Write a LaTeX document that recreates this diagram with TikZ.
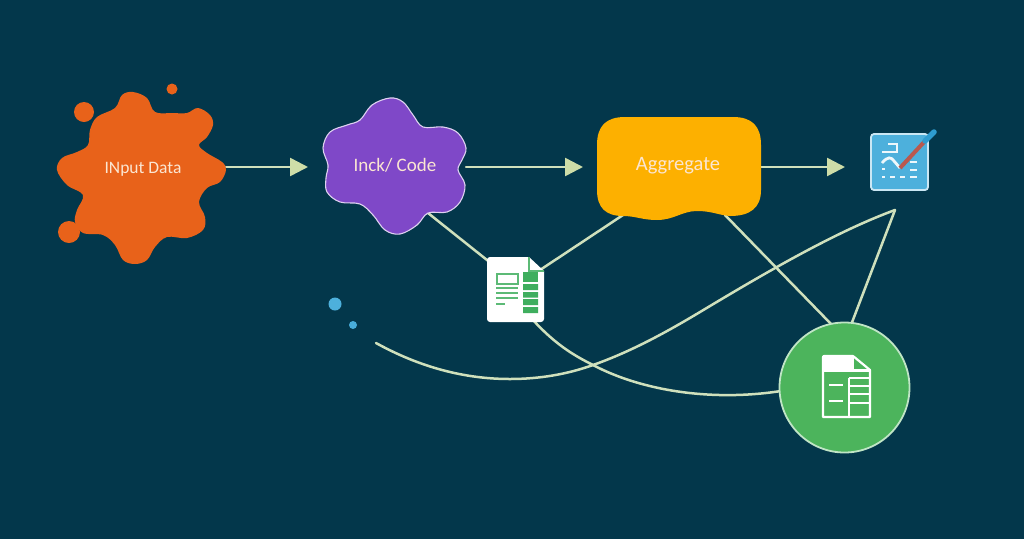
\documentclass[tikz,border=0pt]{standalone}
\usepackage{fontspec}
\setmainfont{Carlito}
\definecolor{bgc}{HTML}{03374B}
\definecolor{linec}{HTML}{CFE0BC}
\definecolor{headc}{HTML}{CEDDA8}
\definecolor{orangec}{HTML}{E8621A}
\definecolor{purplec}{HTML}{7F48C8}
\definecolor{yellowc}{HTML}{FDB000}
\definecolor{greenc}{HTML}{4CB45C}
\definecolor{docg}{HTML}{3FAE5E}
\definecolor{skyc}{HTML}{4DB0DC}
\definecolor{penr}{HTML}{B9584E}
\definecolor{penb}{HTML}{2E9CD0}
\definecolor{labelc}{HTML}{FBE6D2}
\usetikzlibrary{arrows.meta}
\tikzset{
  conn/.style={draw=linec,line width=2.5pt,line cap=round},
  flow/.style={conn,-{Triangle[length=18pt,width=18pt,color=headc]},shorten >=0pt},
  lbl/.style={text=labelc,font=\fontsize{17.5}{20}\selectfont,inner sep=0pt},
  lblwide/.style={lbl,font=\fontsize{19}{22}\selectfont},
  docline/.style={draw=docg!85!white,line width=2pt},
  iconline/.style={draw=white,line width=2.2pt},
  chartline/.style={draw=white!90!skyc,line width=2.8pt},
}
\begin{document}
\begin{tikzpicture}[x=1pt,y=-1pt]
\useasboundingbox (0,0) rectangle (1024,539);
\fill[bgc] (0,0) rectangle (1024,539);
% anchors
\coordinate (inE) at (226,167);
\coordinate (flowA) at (308,167);
\coordinate (codeE) at (466,167);
\coordinate (flowB) at (583,167);
\coordinate (aggE) at (760,167);
\coordinate (flowC) at (845,167);
\coordinate (codeS) at (428,213);
\coordinate (docW) at (492,264);
\coordinate (docE) at (540,270);
\coordinate (aggSW) at (623,215);
\coordinate (aggSE) at (725,215);
\coordinate (circN) at (832,325);
\coordinate (circN2) at (851,325);
\coordinate (circW) at (781,391);
\coordinate (docS) at (533,320);
\coordinate (apex) at (895,210);
\coordinate (curveStart) at (376,343);
% connectors
\draw[flow] (inE) -- (flowA);
\draw[flow] (codeE) -- (flowB);
\draw[flow] (aggE) -- (flowC);
\draw[conn] (codeS) -- (docW);
\draw[conn] (docE) -- (aggSW);
\draw[conn] (aggSE) -- (circN);
\draw[conn] (apex) -- (circN2);
\draw[conn] (curveStart) .. controls (425,370) and (470,379) .. (510,379)
  .. controls (540,379) and (568,374) .. (593,365)
  .. controls (630,352) and (665,333) .. (700,312)
  .. controls (765,273) and (835,232) .. (apex);
\draw[conn] (docS) .. controls (555,344) and (573,355) .. (593,365)
  .. controls (640,390) and (710,402) .. (circW);
% input blob
\fill[orangec] plot[smooth cycle,tension=0.6] coordinates {
 (133,92) (147,98) (155,112) (173,113) (187,113) (198,108) (210,115) (213,125) (207,137)
 (199,145) (207,153) (222,162) (226,170) (220,182) (207,188) (199,202) (205,217) (203,230)
 (187,238) (167,237) (155,247) (147,260) (135,264) (123,260) (115,245) (103,235) (83,233)
 (75,222) (77,210) (83,195) (67,185) (57,170) (62,158) (77,152) (88,145) (90,130) (97,117)
 (115,108) (122,95)};
\fill[orangec] (84,112) circle[radius=10];
\fill[orangec] (172,89) circle[radius=5.5];
\fill[orangec] (69,232) circle[radius=11];
\node[lbl] (input) at (143,169) {INput Data};
% code blob
\filldraw[fill=purplec,draw=white!75!purplec,line width=1.1pt] plot[smooth cycle,tension=0.6] coordinates {
 (390,98) (403,102) (413,115) (423,127) (443,127) (458,133) (466,148) (462,160) (458,170)
 (465,185) (460,202) (447,212) (428,213) (417,225) (400,234) (385,230) (373,215) (360,204)
 (340,202) (327,192) (326,178) (328,165) (323,148) (330,132) (347,125) (360,120) (372,105)};
\node[lblwide] (code) at (395,165) {Inck/ Code};
% aggregate
\fill[yellowc] (597,145) .. controls (597,126) and (606,117) .. (625,117)
 -- (733,117) .. controls (752,117) and (761,126) .. (761,145)
 -- (761,190) .. controls (761,208) and (750,216) .. (730,216)
 .. controls (718,215) and (712,211) .. (697,211)
 .. controls (682,211) and (674,220) .. (657,220)
 .. controls (642,220) and (636,216) .. (623,216)
 .. controls (606,216) and (597,208) .. (597,190) -- cycle;
\node[lbl,font=\fontsize{20.5}{23}\selectfont] (agg) at (678,165.5) {Aggregate};
% chart icon
\filldraw[fill=skyc,draw=white!70!skyc,line width=1.8pt,rounded corners=3pt] (871,134) rectangle (928,190);
\draw[chartline] (888,144) -- (897,144) -- (897,152) -- (882,152);
\draw[chartline] (882,163) .. controls (888,156) and (891,157) .. (894,161) -- (900,168);
\draw[chartline] (882,169) -- (885,169);
\draw[chartline] (882,177) -- (885,177) (890,177) -- (895,177) (900,177) -- (905,177) (910,177) -- (917,177);
\draw[chartline] (910,162) -- (917,162) (910,170) -- (917,170);
\draw[penr,line width=4pt] (900,168) -- (925,141);
\draw[penb,line width=5.5pt,line cap=round] (925,141) -- (934,132);
% doc icon
\fill[white] (490,257) -- (529,257) -- (544,271) -- (544,319) arc[start angle=0,end angle=90,radius=3] -- (490,322) arc[start angle=90,end angle=180,radius=3] -- (487,260) arc[start angle=180,end angle=270,radius=3] -- cycle;
\draw[docline,line width=1.6pt] (529,257) -- (529,271) -- (544,271);
\draw[docline] (496.5,273.5) rectangle (518,284);
\draw[docline] (496,288) -- (518,288) (496,292.5) -- (518,292.5) (496,298) -- (518,298) (496,303.5) -- (505,303.5);
\fill[docg] (523,272) rectangle (538,282);
\fill[docg] (523,284) rectangle (538,290) (523,292) rectangle (538,297.5) (523,299) rectangle (538,305) (523,307) rectangle (538,313);
% circle
\filldraw[fill=greenc,draw=white!65!greenc,line width=1.8pt] (844.5,387.5) circle[radius=65];
\fill[white] (824,356) -- (853,356) -- (853,371) -- (823,371) -- cycle;
\draw[iconline,line join=round] (853,356) -- (824,356) -- (823,357) -- (823,417) -- (870,417) -- (870,370) -- (853,356);
\draw[iconline,line width=1.5pt] (853,356) -- (853,370) -- (870,370);
\draw[iconline] (823,371) -- (870,371);
\draw[iconline] (849,378) -- (849,417) (849,378) -- (870,378) (849,386) -- (870,386) (849,394) -- (870,394) (849,403) -- (870,403);
\draw[iconline] (829,385) -- (843,385) (829,401) -- (843,401);
% dots
\fill[skyc] (335,304) circle[radius=6.5];
\fill[skyc!85!penb] (353,325) circle[radius=4];
\end{tikzpicture}
\end{document}
